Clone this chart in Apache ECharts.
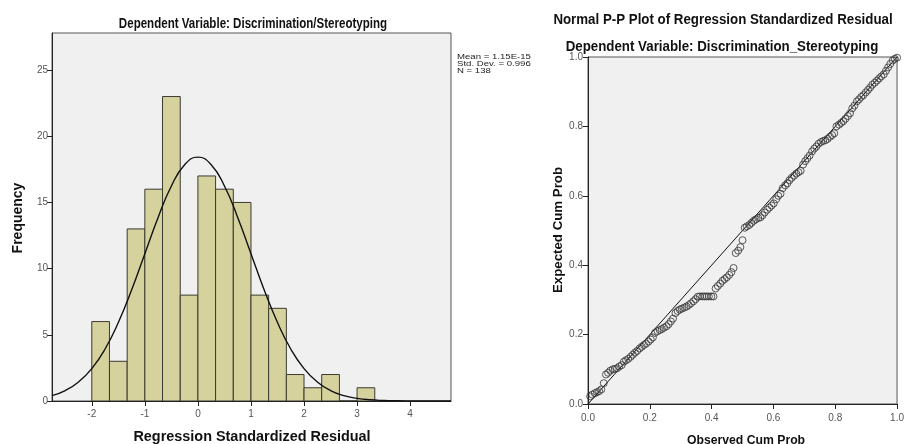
<!DOCTYPE html>
<html>
<head>
<meta charset="utf-8">
<script src="https://cdn.jsdelivr.net/npm/echarts@6/dist/echarts.min.js"></script>
<style>html,body{margin:0;padding:0;background:#fff}#c{width:907px;height:444px}</style>
</head>
<body>
<div id="c"></div>
<script>
// ---- Histogram data ----
const binStart = [-2.0,-1.667,-1.333,-1.0,-0.667,-0.333,0.0,0.333,0.667,1.0,1.333,1.667,2.0,2.333,2.667,3.0];
const binEnd   = [-1.667,-1.333,-1.0,-0.667,-0.333,0.0,0.333,0.667,1.0,1.333,1.667,2.0,2.333,2.667,3.0,3.333];
const binCount = [6,3,13,16,23,8,17,16,15,8,7,2,1,2,0,1];
const histXTicks = [-2,-1,0,1,2,3,4];
const histYTicks = [0,5,10,15,20,25];
// normal curve
const curveX = [-2.75,-2.5,-2.25,-2,-1.75,-1.5,-1.25,-1,-0.75,-0.5,-0.25,0,0.25,0.5,0.75,1,1.25,1.5,1.75,2,2.25,2.5,2.75,3,3.25,3.5,3.75,4,4.25,4.5,4.77];
const curveY = [0.41,0.79,1.44,2.45,3.93,5.93,8.38,11.13,13.87,16.24,17.85,18.42,17.85,16.24,13.87,11.13,8.38,5.93,3.93,2.45,1.44,0.79,0.41,0.20,0.09,0.04,0.015,0.005,0.002,0.001,0.0];
const statsLines = ['Mean = 1.15E-15','Std. Dev. = 0.996','N = 138'];

// ---- P-P plot data ----
const observedCum = [0.007,0.014,0.022,0.029,0.036,0.043,0.051,0.058,0.065,0.072,0.080,0.087,0.094,0.101,0.109,0.116,0.123,0.130,0.138,0.145,0.152,0.159,0.167,0.174,0.181,0.188,0.196,0.203,0.210,0.217,0.225,0.232,0.239,0.246,0.254,0.261,0.268,0.275,0.283,0.290,0.297,0.304,0.312,0.319,0.326,0.333,0.341,0.348,0.355,0.362,0.370,0.377,0.384,0.391,0.399,0.406,0.413,0.420,0.428,0.435,0.442,0.449,0.457,0.464,0.471,0.478,0.486,0.493,0.500,0.507,0.514,0.522,0.529,0.536,0.543,0.551,0.558,0.565,0.572,0.580,0.587,0.594,0.601,0.609,0.616,0.623,0.630,0.638,0.645,0.652,0.659,0.667,0.674,0.681,0.688,0.696,0.703,0.710,0.717,0.725,0.732,0.739,0.746,0.754,0.761,0.768,0.775,0.783,0.790,0.797,0.804,0.812,0.819,0.826,0.833,0.841,0.848,0.855,0.862,0.870,0.877,0.884,0.891,0.899,0.906,0.913,0.920,0.928,0.935,0.942,0.949,0.957,0.964,0.971,0.978,0.986,0.993,1.000];
const expectedCum = [0.022,0.027,0.031,0.034,0.037,0.042,
  0.060,0.085,0.090,
  0.096,0.100,0.101,0.103,0.108,0.112,0.122,0.126,0.130,0.136,0.142,0.148,0.153,
  0.160,0.165,0.170,0.174,0.180,0.186,0.192,0.205,0.210,0.213,0.216,0.220,0.224,0.230,0.238,0.246,
  0.262,0.268,0.272,0.275,0.278,0.281,0.285,0.290,0.296,0.302,0.309,0.310,0.310,0.310,0.310,0.310,0.310,0.310,0.333,0.340,0.347,0.355,0.360,
  0.365,0.372,0.380,0.392,0.435,0.442,0.452,0.472,
  0.508,0.512,0.516,0.522,0.528,0.532,0.536,0.538,0.544,0.552,0.560,0.566,0.572,0.578,0.590,0.600,0.606,
  0.622,0.630,0.636,0.645,0.652,0.658,0.664,0.668,0.672,0.690,0.700,0.708,0.716,0.728,0.736,0.742,
  0.750,0.755,0.758,0.760,0.764,0.770,0.775,0.780,0.800,0.805,0.810,0.815,0.822,0.830,0.838,
  0.852,0.860,0.872,0.878,0.885,0.890,0.898,0.905,
  0.912,0.920,0.926,0.932,0.938,0.944,0.950,
  0.960,0.970,
  0.980,
  0.990,0.995,
  0.998];
const refLineX = [0,1];
const refLineY = [0,1];

const FONT = "'Liberation Sans',Arial,sans-serif";
const tickLabelStyle = {color:'#555', fontSize:10, fontFamily:FONT};

const histData = binCount.map((c,i)=>[binStart[i],binEnd[i],c]);
const curveData = curveX.map((x,i)=>[x,curveY[i]]);
const ppData = observedCum.map((x,i)=>[x,expectedCum[i]]);
const refData = refLineX.map((x,i)=>[x,refLineY[i]]);

function label(text, x, y, size, sx, rot){
  return {type:'text', x:x, y:y, rotation:rot||0, scaleX:sx, scaleY:1,
    style:{text:text, font:'bold '+size+'px '+FONT, fill:'#111', textAlign:'center', textVerticalAlign:'middle', verticalAlign:'middle'}};
}

const chart = echarts.init(document.getElementById('c'), null, {renderer:'canvas'});
chart.setOption({
  animation:false,
  backgroundColor:'#ffffff',
  grid:[
    {left:52, top:33, width:399, height:368, show:true, backgroundColor:'#f0f0f0', borderColor:'#555', borderWidth:1},
    {left:588, top:57, width:315, height:347, show:true, backgroundColor:'#f0f0f0', borderColor:'#555', borderWidth:1}
  ],
  xAxis:[
    {gridIndex:0, type:'value', min:-2.75, max:4.77,
     axisLine:{show:true, onZero:false, lineStyle:{color:'#222', width:1}},
     axisTick:{show:true, length:5, customValues:histXTicks, lineStyle:{color:'#222'}},
     axisLabel:{customValues:histXTicks, margin:8, ...tickLabelStyle},
     splitLine:{show:false}},
    {gridIndex:1, type:'value', min:0, max:1, interval:0.2,
     axisLine:{show:true, onZero:false, lineStyle:{color:'#222', width:1}},
     axisTick:{show:true, length:5, lineStyle:{color:'#222'}},
     axisLabel:{margin:9, formatter:v=>v.toFixed(1), ...tickLabelStyle},
     splitLine:{show:false}}
  ],
  yAxis:[
    {gridIndex:0, type:'value', min:0, max:27.8,
     axisLine:{show:true, onZero:false, lineStyle:{color:'#222', width:1}},
     axisTick:{show:true, length:5, customValues:histYTicks, lineStyle:{color:'#222'}},
     axisLabel:{customValues:histYTicks, margin:4, ...tickLabelStyle},
     splitLine:{show:false}},
    {gridIndex:1, type:'value', min:0, max:1, interval:0.2,
     axisLine:{show:true, onZero:false, lineStyle:{color:'#222', width:1}},
     axisTick:{show:true, length:5, lineStyle:{color:'#222'}},
     axisLabel:{margin:5, formatter:v=>v.toFixed(1), ...tickLabelStyle},
     splitLine:{show:false}}
  ],
  series:[
    {type:'custom', xAxisIndex:0, yAxisIndex:0, data:histData, clip:true,
     renderItem:function(params, api){
       const p0 = api.coord([api.value(0), api.value(2)]);
       const p1 = api.coord([api.value(1), 0]);
       return {type:'rect', shape:{x:p0[0], y:p0[1], width:p1[0]-p0[0], height:p1[1]-p0[1]},
               style:{fill:'#d6d29e', stroke:'#3a3a30', lineWidth:1}};
     }, z:2},
    {type:'line', xAxisIndex:0, yAxisIndex:0, data:curveData, smooth:true, showSymbol:false, symbol:'none',
     lineStyle:{color:'#111', width:1.4}, z:3},
    {type:'line', xAxisIndex:1, yAxisIndex:1, data:refData, showSymbol:false, symbol:'none',
     lineStyle:{color:'#111', width:1}, z:2},
    {type:'scatter', xAxisIndex:1, yAxisIndex:1, data:ppData, symbol:'circle', symbolSize:7,
     itemStyle:{color:'rgba(0,0,0,0)', borderColor:'#333', borderWidth:1}, z:3}
  ],
  graphic:[
    label('Dependent Variable: Discrimination/Stereotyping', 253, 24, 15, 0.77),
    {type:'text', x:457, y:53.5, scaleX:1.2,
     style:{text:statsLines.join('\n'), font:"8px "+FONT, lineHeight:7, fill:'#222', textAlign:'left', textVerticalAlign:'top', verticalAlign:'top'}},
    label('Frequency', 18, 218, 14, 1, Math.PI/2),
    label('Regression Standardized Residual', 252, 437, 14, 1.03),
    label('Normal P-P Plot of Regression Standardized Residual', 723, 20, 14, 0.95),
    label('Dependent Variable: Discrimination_Stereotyping', 722, 47, 14, 0.95),
    label('Expected Cum Prob', 558, 230, 13, 1.02, Math.PI/2),
    label('Observed Cum Prob', 746, 440, 13, 0.94)
  ]
});
</script>
</body>
</html>
